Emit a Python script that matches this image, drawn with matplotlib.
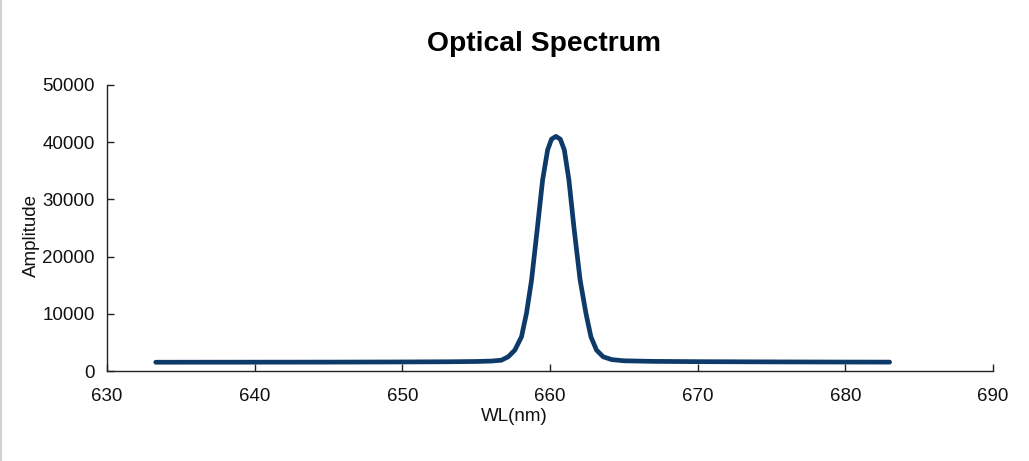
import matplotlib
matplotlib.use("Agg")
import matplotlib.pyplot as plt
from matplotlib.lines import Line2D

# wavelength (nm) and amplitude
wl = [633.3, 640.0, 645.0, 650.0, 653.0, 655.0, 656.0, 656.7, 657.17, 657.62,
      658.07, 658.41, 658.75, 659.13, 659.5, 659.84, 660.1, 660.4, 660.7,
      660.97, 661.28, 661.64, 662.04, 662.43, 662.77, 663.15, 663.6, 664.2,
      665.0, 667.0, 670.0, 675.0, 680.0, 683.0]
amp = [1550, 1560, 1570, 1600, 1630, 1680, 1750, 1900, 2500, 3670,
       6000, 10140, 15900, 24650, 33390, 38640, 40500, 41000, 40500,
       38640, 33390, 24650, 15900, 10140, 6000, 3670, 2500, 2000,
       1800, 1700, 1650, 1610, 1580, 1570]

x_ticks = [630, 640, 650, 660, 670, 680, 690]
y_ticks = [0, 10000, 20000, 30000, 40000, 50000]

plt.rcParams['font.family'] = ['Liberation Sans', 'DejaVu Sans']

fig = plt.figure(figsize=(10.29, 4.61), dpi=100)
ax = fig.add_axes([0.104, 0.195, 0.861, 0.621])

ax.plot(wl, amp, color='#0e3a6a', linewidth=3.4, solid_capstyle='round',
        solid_joinstyle='round')

ax.set_xlim(630, 690)
ax.set_ylim(0, 50000)
ax.set_xticks(x_ticks)
ax.set_yticks(y_ticks)

for s in ['top', 'right']:
    ax.spines[s].set_visible(False)
for s in ['left', 'bottom']:
    ax.spines[s].set_linewidth(1.0)
    ax.spines[s].set_color('#222222')

ax.tick_params(axis='both', direction='in', length=5, width=1.0,
               colors='#222222', labelsize=13.5, labelcolor='#111111')
ax.tick_params(axis='x', pad=12)
ax.tick_params(axis='y', pad=9)

ax.set_xlabel('WL(nm)', fontsize=13.5, color='#111111')
ax.xaxis.set_label_coords(0.46, -0.13)
ax.set_ylabel('Amplitude', fontsize=13.5, color='#111111')
ax.yaxis.set_label_coords(-0.076, 0.472)

ax.set_title('Optical Spectrum', fontsize=20.3, fontweight='bold',
             x=0.493, pad=24)

# faint frame line on the left edge of the image
fig.add_artist(Line2D([0.001, 0.001], [0, 1], transform=fig.transFigure,
                      color='#d0d0d0', linewidth=1.5))

fig.savefig('out.png', dpi=100)
